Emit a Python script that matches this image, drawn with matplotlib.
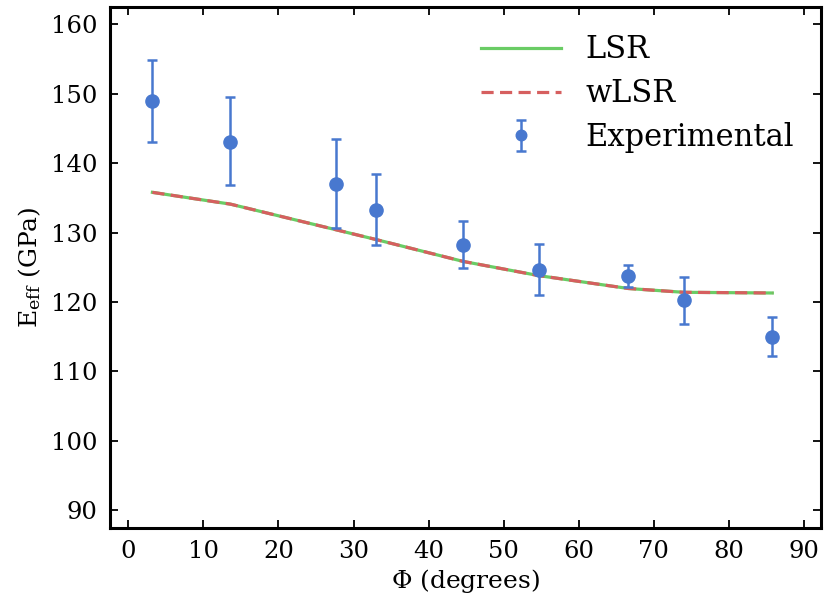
import numpy as np
import matplotlib
matplotlib.use("Agg")
import matplotlib.pyplot as plt

# --- data ---
phi = [3.2, 13.6, 27.7, 33.0, 44.6, 54.7, 66.6, 74.0, 85.8]
e_exp = [149.0, 143.1, 137.0, 133.3, 128.2, 124.6, 123.7, 120.3, 115.0]
err_up = [5.9, 6.5, 6.5, 5.1, 3.4, 3.7, 1.7, 3.3, 2.8]
err_lo = [5.9, 6.3, 6.4, 5.1, 3.3, 3.6, 1.5, 3.4, 2.8]
e_lsr = [135.8, 134.1, 130.4, 129.0, 125.85, 123.8, 121.95, 121.4, 121.3]
e_wlsr = [135.8, 134.1, 130.4, 129.0, 125.85, 123.8, 121.95, 121.4, 121.3]

blue = "#4878CF"
green = "#6ACC65"
red = "#D65F5F"

plt.rcParams['font.family'] = 'DejaVu Serif'
plt.rcParams['mathtext.fontset'] = 'dejavuserif'

fig = plt.figure(figsize=(8.24, 6.03), dpi=100)
ax = fig.add_axes([0.1335, 0.125, 0.863, 0.8634])

ax.plot(phi, e_lsr, color=green, lw=2.3, label="LSR")
ax.plot(phi, e_wlsr, color=red, lw=2.3, ls=(0, (3.8, 2.0)), label="wLSR")
ax.errorbar(phi, e_exp, yerr=[err_lo, err_up], fmt="o", color=blue,
            ms=9.5, elinewidth=1.8, capsize=3.3, capthick=1.8,
            label="Experimental")

ax.set_xlim(-2.45, 92.3)
ax.set_ylim(87.5, 162.5)
ax.set_xticks(np.arange(0, 91, 10))
ax.set_yticks(np.arange(90, 161, 10))
ax.tick_params(direction="in", top=True, right=True, length=6, width=1.3,
               labelsize=17.5, pad=9)
for s in ax.spines.values():
    s.set_linewidth(2.2)

ax.set_xlabel(r"$\Phi$ (degrees)", fontsize=18, labelpad=3)
ax.set_ylabel(r"E$_{\mathrm{eff}}$ (GPa)", fontsize=18, labelpad=6)

ax.legend(loc="upper right", frameon=False, fontsize=22, handlelength=2.6,
          handletextpad=0.8, borderaxespad=0.5, labelspacing=0.42,
          numpoints=1, markerscale=0.8)

fig.savefig("out.png", dpi=100)
